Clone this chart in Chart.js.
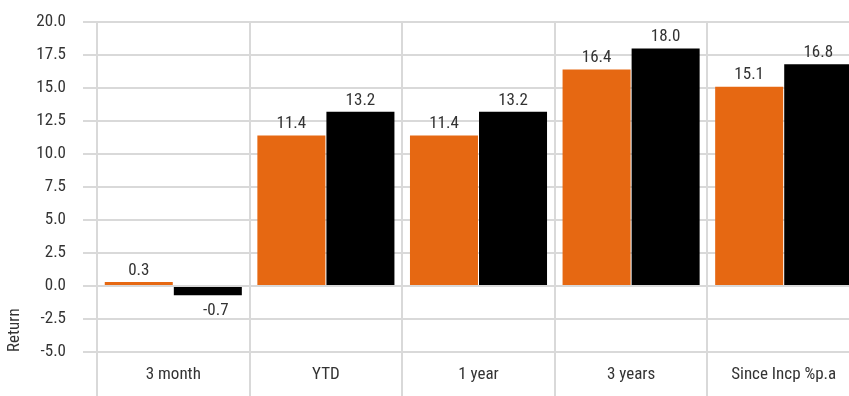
<!DOCTYPE html>
<html>
<head>
<meta charset="utf-8">
<script src="https://cdn.jsdelivr.net/npm/chart.js@4"></script>
<style>
html,body{margin:0;padding:0;background:#fff;overflow:hidden;}
#wrap{width:860px;height:396px;}
</style>
</head>
<body>
<div id="wrap"><canvas id="chart"></canvas></div>
<script>
// data
const categories = ["3 month", "YTD", "1 year", "3 years", "Since Incp %p.a"];
const fundReturns = [0.3, 11.4, 11.4, 16.4, 15.1];
const benchReturns = [-0.7, 13.2, 13.2, 18.0, 16.8];
const yTicks = [20, 17.5, 15, 12.5, 10, 7.5, 5, 2.5, 0, -2.5, -5];

const FONT = "'Roboto Condensed', 'Liberation Sans Narrow', Roboto, sans-serif";
const GRID = "#d9d9d9";

// value labels on top / below each bar
const valueLabels = {
  id: "valueLabels",
  afterDatasetsDraw(chart){
    const ctx = chart.ctx;
    ctx.save();
    ctx.font = "17px " + FONT;
    ctx.fillStyle = "#333";
    ctx.textAlign = "center";
    chart.data.datasets.forEach((ds, i) => {
      chart.getDatasetMeta(i).data.forEach((bar, j) => {
        const v = ds.data[j];
        if(v >= 0){
          ctx.textBaseline = "bottom";
          ctx.fillText(v.toFixed(1), bar.x, bar.y - 3);
        } else {
          ctx.textBaseline = "top";
          ctx.fillText(v.toFixed(1), bar.x + 8, bar.y + 7);
        }
      });
    });
    ctx.restore();
  }
};

new Chart(document.getElementById("chart"), {
  type: "bar",
  data: {
    labels: categories,
    datasets: [
      {label: "Fund", data: fundReturns, backgroundColor: "#e66812"},
      {label: "Benchmark", data: benchReturns, backgroundColor: "#000000"}
    ]
  },
  options: {
    responsive: true,
    maintainAspectRatio: false,
    animation: false,
    layout: {padding: {top: 0}},
    categoryPercentage: 0.905,
    barPercentage: 0.985,
    plugins: {legend: {display: false}, tooltip: {enabled: false}},
    scales: {
      x: {
        grid: {offset: true, color: GRID, lineWidth: 2, tickLength: 44},
        border: {display: false},
        ticks: {color: "#333", font: {family: FONT, size: 17}, padding: -31},
        afterFit(s){ s.height = 44; }
      },
      y: {
        min: -5,
        max: 20,
        afterBuildTicks(s){ s.ticks = yTicks.map(v => ({value: v})); },
        grid: {color: GRID, lineWidth: 2, tickLength: 14},
        border: {display: false},
        ticks: {
          color: "#333",
          font: {family: FONT, size: 17},
          padding: 17,
          callback: v => v.toFixed(1)
        },
        title: {display: true, text: "Return", align: "start", color: "#333",
                font: {family: FONT, size: 17}, padding: {top: 5, bottom: 0}},
        afterFit(s){ s.width = 97; s.paddingTop = 22; }
      }
    }
  },
  plugins: [valueLabels]
});
</script>
</body>
</html>
